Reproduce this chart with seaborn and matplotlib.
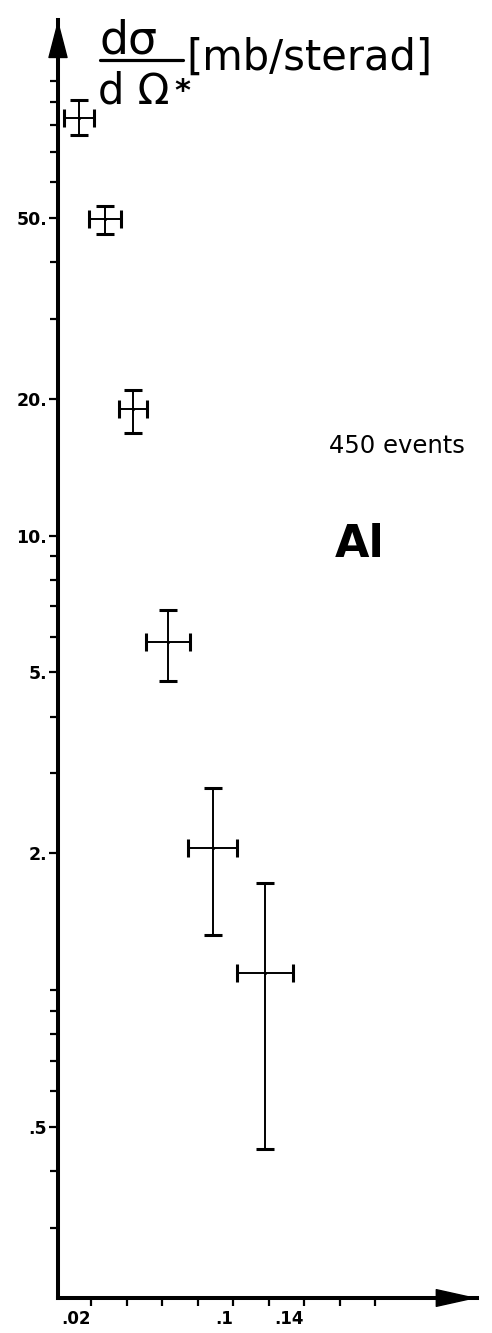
import matplotlib
matplotlib.use("Agg")
import matplotlib.pyplot as plt
from matplotlib.lines import Line2D
from matplotlib.patches import FancyArrowPatch, ArrowStyle
from matplotlib.ticker import FixedLocator, FixedFormatter, NullFormatter
import numpy as np
import pandas as pd
import seaborn as sns

# Measured differential cross section, Al target (bins in t)
t_center = [0.0132, 0.0279, 0.0437, 0.0634, 0.0887, 0.118]
t_halfwidth = [0.0087, 0.0090, 0.0079, 0.0124, 0.0138, 0.0160]
xsec = [83.0, 49.8, 19.0, 5.84, 2.06, 1.09]
xsec_hi = [90.9, 53.0, 20.9, 6.86, 2.79, 1.72]
xsec_lo = [76.1, 46.2, 16.8, 4.79, 1.32, 0.447]

# Axis ticks and labels
y_major = [0.5, 2, 5, 10, 20, 50]
y_major_labels = [".5", "2.", "5.", "10.", "20.", "50."]
y_minor = [0.3, 0.4, 0.6, 0.7, 0.8, 0.9, 1, 3, 4, 6, 7, 8, 9,
           30, 40, 60, 70, 80, 90, 100]
x_ticks = [0.02, 0.04, 0.06, 0.08, 0.10, 0.12, 0.14, 0.16, 0.18]
x_tick_labels = [".02", "", "", "", ".1", "", ".14", "", ""]
x_limits = (0.0014, 0.2374)
y_limits = (0.2103, 136.3)

df = pd.DataFrame({"t": t_center, "dsig": xsec})

W, H = 492, 1333
sns.set_style("ticks")
plt.rcParams["font.family"] = ["DejaVu Sans"]
plt.rcParams["text.color"] = "black"

fig = plt.figure(figsize=(W / 100, H / 100), dpi=100)
ax = fig.add_axes([58 / W, 35 / H, (477 - 58) / W, (1298 - 20) / H])


def fpos(x, y):
    """pixel position (from top-left) -> figure fraction"""
    return x / W, 1 - y / H


# error crosses
yerr = np.array([np.array(xsec) - np.array(xsec_lo),
                 np.array(xsec_hi) - np.array(xsec)])
ax.errorbar(t_center, xsec, xerr=t_halfwidth, yerr=yerr, fmt="none",
            ecolor="black", elinewidth=1.4, capsize=6.5, capthick=2.2,
            zorder=3)
sns.scatterplot(data=df, x="t", y="dsig", ax=ax, color="black", s=5,
                linewidth=0, zorder=4, legend=False)

ax.set_yscale("log")
ax.set_xlim(*x_limits)
ax.set_ylim(*y_limits)

ax.yaxis.set_major_locator(FixedLocator(y_major))
ax.yaxis.set_major_formatter(FixedFormatter(y_major_labels))
ax.yaxis.set_minor_locator(FixedLocator(y_minor))
ax.yaxis.set_minor_formatter(NullFormatter())
ax.xaxis.set_major_locator(FixedLocator(x_ticks))
ax.xaxis.set_major_formatter(FixedFormatter(x_tick_labels))
ax.xaxis.set_minor_locator(FixedLocator([]))

ax.tick_params(axis="both", which="both", direction="out", color="black",
               width=1.6, labelcolor="black", left=True, bottom=True,
               right=False, top=False)
ax.tick_params(axis="y", which="major", length=6.5, pad=1.5, labelsize=12.5)
ax.tick_params(axis="y", which="minor", length=5.5)
ax.tick_params(axis="x", which="major", length=6.0, pad=3, labelsize=12)
for lab in ax.get_yticklabels() + ax.get_xticklabels():
    lab.set_fontweight("bold")
for lab in ax.get_xticklabels():
    lab.set_horizontalalignment("right")

ax.set_xlabel("")
ax.set_ylabel("")
for side in ("top", "right"):
    ax.spines[side].set_visible(False)
for side in ("left", "bottom"):
    ax.spines[side].set_linewidth(2.9)
    ax.spines[side].set_color("black")
ax.grid(False)

# arrowheads at the ends of both axes
style = ArrowStyle("-|>", head_length=25, head_width=6.5)
arr_y = FancyArrowPatch((0, 1 - 36 / 1278), (0, 1), transform=ax.transAxes,
                        arrowstyle=style, mutation_scale=1, color="black",
                        lw=1, shrinkA=0, shrinkB=0, clip_on=False, zorder=5)
ax.add_patch(arr_y)
style_x = ArrowStyle("-|>", head_length=27, head_width=6)
arr_x = FancyArrowPatch((1 - 38 / 419, 0), (1, 0), transform=ax.transAxes,
                        arrowstyle=style_x, mutation_scale=1, color="black",
                        lw=1, shrinkA=0, shrinkB=0, clip_on=False, zorder=5)
ax.add_patch(arr_x)

# axis title: dσ/dΩ* [mb/sterad]
fig.text(*fpos(128, 54), "dσ", fontsize=33, ha="center", va="baseline",
         color="black")
fig.add_artist(Line2D([100 / W, 183 / W], [1 - 60 / H, 1 - 60 / H],
                      transform=fig.transFigure, color="black", lw=2.3))
fig.text(*fpos(134, 103), "d Ω", fontsize=30, ha="center", va="baseline",
         color="black")
fig.text(*fpos(182, 100), "*", fontsize=22, fontweight="bold",
         ha="center", va="baseline", color="black")
fig.text(*fpos(186, 70), "[mb/sterad]", fontsize=30, ha="left",
         va="baseline", color="black")

# annotations
fig.text(*fpos(329, 453), "450 events", fontsize=17.5, ha="left",
         va="baseline", color="black")
fig.text(*fpos(335, 557), "Al", fontsize=32, fontweight="bold", ha="left",
         va="baseline", color="black")

fig.savefig("out.png", dpi=100, facecolor="white")
